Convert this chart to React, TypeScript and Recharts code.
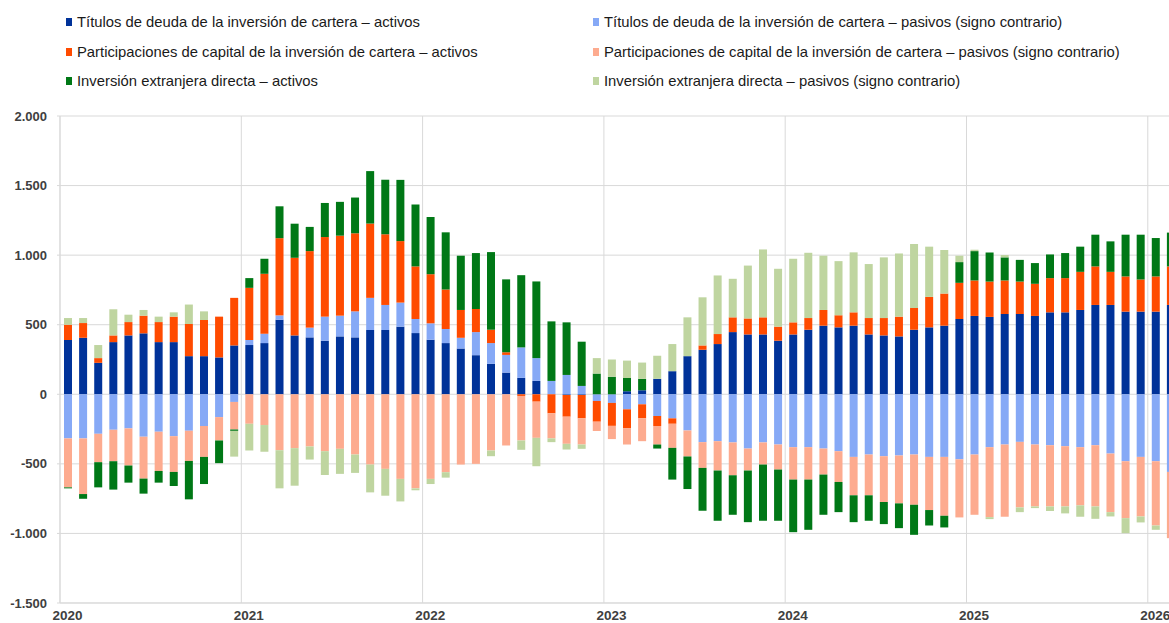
import { Bar, BarChart, CartesianGrid, XAxis, YAxis } from "recharts";

const years = ["2020", "2021", "2022", "2023", "2024", "2025", "2026"];
const monthNums = ["01", "02", "03", "04", "05", "06", "07", "08", "09", "10", "11", "12"];
const months = years.flatMap((y) => monthNums.map((m) => `${y}-${m}`)).slice(0, 74);
const yearTicks = months.filter((m) => m.endsWith("-01"));
const yTicks = [-1500, -1000, -500, 0, 500, 1000, 1500, 2000];

// Títulos de deuda – activos
const debtAssets = [
  390, 406, 226, 375, 423, 438, 375, 375, 274, 274, 265, 351,
  354, 368, 536, 423, 409, 385, 416, 409, 462, 462, 486, 440,
  392, 368, 329, 281, 219, 156, 118, 96, 0, -5, -5, 0,
  0, 22, 29, 111, 166, 274, 320, 361, 447, 430, 430, 385,
  430, 464, 493, 481, 493, 430, 423, 416, 464, 481, 493, 541,
  563, 556, 577, 577, 563, 589, 589, 606, 642, 642, 594, 594,
  594, 642,
];
// Títulos de deuda – pasivos (signo contrario)
const debtLiab = [
  -317, -317, -284, -255, -245, -305, -269, -301, -262, -228, -164, -55,
  36, 67, 31, 0, 70, 173, 149, 187, 231, 180, 173, 101,
  118, 101, 77, 166, 149, 127, 219, 164, 96, 139, 60, -48,
  -62, -108, -72, -156, -173, -260, -344, -337, -346, -390, -346, -361,
  -380, -380, -390, -409, -450, -433, -445, -440, -433, -450, -450, -467,
  -433, -380, -361, -342, -361, -366, -373, -380, -366, -426, -481, -450,
  -481, -558,
];
// Participaciones de capital – activos
const equityAssets = [
  110, 106, 34, 48, 96, 127, 144, 183, 231, 260, 293, 342,
  375, 431, 555, 558, 550, 572, 575, 561, 534, 508, 442, 378,
  353, 284, 200, 166, 96, 19, -12, -53, -137, -156, -168, -149,
  -165, -137, -101, -72, -39, 0, 31, 72, 106, 115, 123, 101,
  87, 84, 113, 87, 96, 118, 125, 142, 156, 219, 231, 260,
  255, 254, 241, 233, 231, 246, 246, 274, 277, 238, 253, 231,
  253, 277,
];
// Participaciones de capital – pasivos (signo contrario)
const equityLiab = [
  -352, -400, -204, -226, -267, -301, -282, -257, -217, -222, -168, -198,
  -212, -221, -402, -387, -375, -409, -392, -433, -505, -536, -608, -676,
  -608, -560, -505, -500, -404, -368, -320, -260, -180, -195, -188, -67,
  -95, -116, -164, -133, -173, -187, -185, -211, -236, -158, -159, -180,
  -233, -233, -187, -221, -276, -293, -329, -344, -361, -382, -423, -418,
  -433, -503, -519, -471, -445, -440, -433, -418, -440, -421, -409, -428,
  -462, -476,
];
// Inversión extranjera directa – activos
const fdiAssets = [
  -7, -34, -181, -204, -123, -108, -84, -101, -276, -195, -163, -10,
  70, 108, 229, 245, 174, 245, 243, 257, 377, 392, 440, 445,
  411, 411, 390, 402, 558, 524, 519, 551, 428, 378, 318, 149,
  126, 95, 82, -29, -228, -234, -308, -361, -284, -371, -404, -368,
  -378, -361, -289, -217, -193, -183, -159, -178, -216, -111, -84, 149,
  211, 209, 166, 156, 149, 170, 180, 181, 228, 219, 300, 322,
  276, 243,
];
// Inversión extranjera directa – pasivos (signo contrario)
const fdiLiab = [
  48, 36, 94, 188, 53, 41, 39, 31, 140, 62, 0, -185,
  -192, -192, -274, -270, -94, -171, -180, -132, -200, -193, -162, -14,
  -37, -39, 0, 0, -41, 0, -67, -204, -27, -41, -31, 111,
  124, 125, 117, 166, 195, 279, 346, 421, 277, 380, 488, 416,
  457, 469, 390, 389, 431, 388, 436, 454, 460, 361, 313, 46,
  10, -14, 17, -34, -12, -33, -50, -82, -89, -31, -108, -43,
  -31, 0,
];

const series = [
  { key: "debtAssets", values: debtAssets, color: "#003299", label: "Títulos de deuda de la inversión de cartera – activos" },
  { key: "debtLiab", values: debtLiab, color: "#86a9f6", label: "Títulos de deuda de la inversión de cartera – pasivos (signo contrario)" },
  { key: "equityAssets", values: equityAssets, color: "#ff4b00", label: "Participaciones de capital de la inversión de cartera – activos" },
  { key: "equityLiab", values: equityLiab, color: "#fdab8f", label: "Participaciones de capital de la inversión de cartera – pasivos (signo contrario)" },
  { key: "fdiAssets", values: fdiAssets, color: "#007816", label: "Inversión extranjera directa – activos" },
  { key: "fdiLiab", values: fdiLiab, color: "#bfd5a0", label: "Inversión extranjera directa – pasivos (signo contrario)" },
];

const data = months.map((month, i) => {
  const row: Record<string, string | number> = { month };
  series.forEach((s) => (row[s.key] = s.values[i]));
  return row;
});

// legend order: left column assets, right column liabilities
const legendOrder = ["debtAssets", "debtLiab", "equityAssets", "equityLiab", "fdiAssets", "fdiLiab"];

const fmt = (v: number) => {
  const s = Math.abs(v).toString().replace(/\B(?=(\d{3})+(?!\d))/g, ".");
  return v < 0 ? "-" + s : s;
};

const font = "'Liberation Sans', Arial, sans-serif";
const gridColor = "#d9d9d9";

export default function App() {
  return (
    <div
      style={{
        position: "absolute",
        left: 0,
        top: 0,
        width: 1169,
        height: 623,
        overflow: "hidden",
        background: "#fff",
        fontFamily: font,
      }}
    >
      {legendOrder.map((key, i) => {
        const s = series.find((x) => x.key === key)!;
        const col = i % 2;
        const row = Math.floor(i / 2);
        return (
          <div
            key={key}
            style={{
              position: "absolute",
              left: col === 0 ? 66 : 593,
              top: 12 + row * 29.5,
              height: 20,
              display: "flex",
              alignItems: "center",
              fontSize: 14.8,
              color: "#1a1a1a",
              whiteSpace: "nowrap",
            }}
          >
            <span style={{ width: 6, height: 8, background: s.color, marginRight: 5 }} />
            {s.label}
          </div>
        );
      })}
      <div style={{ position: "absolute", left: 0, top: 0 }}>
        <BarChart
          width={1178}
          height={623}
          data={data}
          stackOffset="sign"
          barSize={8}
          margin={{ top: 116, right: 0, left: 0, bottom: 0 }}
        >
          <CartesianGrid
            stroke={gridColor}
            verticalCoordinatesGenerator={({ offset }: any) => {
              const bw = offset.width / months.length;
              return years.map((_, k) => offset.left + k * 12 * bw);
            }}
          />
          <XAxis
            dataKey="month"
            ticks={yearTicks}
            interval={0}
            tickFormatter={(m: string) => m.slice(0, 4)}
            height={20}
            tickLine={false}
            tickSize={0}
            tickMargin={7}
            axisLine={{ stroke: gridColor }}
            tick={{ fill: "#404040", fontSize: 13.5, fontWeight: "bold", fontFamily: font }}
          />
          <YAxis
            domain={[-1500, 2000]}
            ticks={yTicks}
            width={60}
            tickFormatter={fmt}
            tickSize={3}
            tickMargin={10}
            tickLine={{ stroke: gridColor }}
            axisLine={{ stroke: gridColor }}
            tick={{ fill: "#404040", fontSize: 13, fontWeight: "bold", fontFamily: font }}
          />
          {series.map((s) => (
            <Bar key={s.key} dataKey={s.key} stackId="a" fill={s.color} isAnimationActive={false} />
          ))}
        </BarChart>
      </div>
    </div>
  );
}
